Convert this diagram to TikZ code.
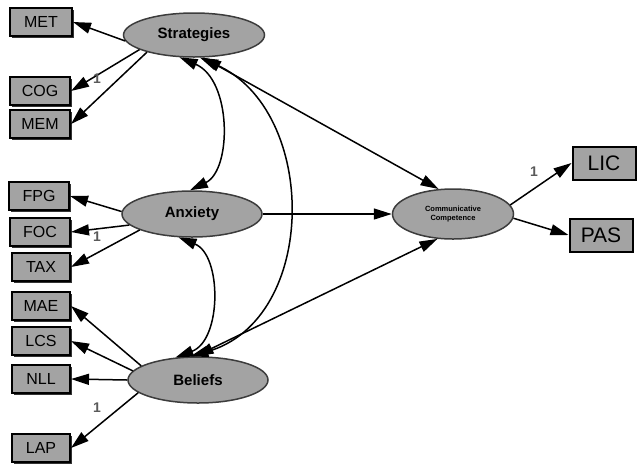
\documentclass[tikz,border=0pt]{standalone}
\usepackage{fontspec}
\setmainfont{Liberation Sans}
\usetikzlibrary{arrows.meta,shapes.geometric,shadows}
\definecolor{fillg}{RGB}{163,163,163}
\definecolor{edgeg}{RGB}{60,60,60}
\definecolor{lblg}{RGB}{90,90,90}
\begin{document}
\begin{tikzpicture}[x=1pt,y=-1pt,
  obs/.style={draw=black, line width=2pt, fill=fillg, minimum width=60pt, minimum height=28pt, inner sep=0pt,
    font=\fontsize{16}{16}\selectfont,
    drop shadow={shadow xshift=1.5pt,shadow yshift=-1.5pt,fill=black,opacity=0.8}},
  bigobs/.style={obs, minimum width=63pt, minimum height=33pt, font=\fontsize{21}{21}\selectfont},
  lat/.style={ellipse, draw=edgeg, line width=1.5pt, fill=fillg, minimum width=141pt, minimum height=44pt,
    inner sep=0pt, font=\bfseries\fontsize{15}{15}\selectfont},
  pth/.style={line width=1.5pt, -{Triangle[length=18pt,width=11pt]}},
  cov/.style={line width=1.5pt, {Triangle[length=18pt,width=11pt]}-{Triangle[length=18pt,width=11pt]}},
  lbl/.style={text=lblg, font=\bfseries\fontsize{14}{14}\selectfont}]
\useasboundingbox (0,0) rectangle (637,467);
% observed boxes
\node[obs, minimum width=62pt] (MET) at (41,22) {MET};
\node[obs] (COG) at (40,91) {COG};
\node[obs] (MEM) at (40,124) {MEM};
\node[obs] (FPG) at (39,196) {FPG};
\node[obs] (FOC) at (40,232) {FOC};
\node[obs, minimum width=58pt] (TAX) at (41,267) {TAX};
\node[obs, minimum width=58pt] (MAE) at (41,306) {MAE};
\node[obs, minimum width=58pt] (LCS) at (41,341) {LCS};
\node[obs, minimum width=58pt] (NLL) at (41,379) {NLL};
\node[obs, minimum width=58pt] (LAP) at (41,448) {LAP};
\node[bigobs] (LIC) at (604,163) {LIC};
\node[bigobs] (PAS) at (601,235) {PAS};
% latent ellipses
\node[lat] (S) at (194,35) {Strategies};
\node[lat, minimum width=140pt, minimum height=46pt] (A) at (192,214) {Anxiety};
\node[lat, minimum width=140pt, minimum height=46pt] (B) at (198,380) {Beliefs};
\node[lat, minimum width=121pt, minimum height=50pt, align=center, font=\bfseries\fontsize{7.5}{9}\selectfont] (CC) at (453,214) {Communicative\\Competence};
% paths to indicators
\draw[pth] (S.185) -- (MET.east);
\draw[pth] (S.195) -- (COG.east);
\draw[pth] (S.200) -- (MEM.east);
\draw[pth] (A.178) -- (FPG.east);
\draw[pth] (A.190) -- (FOC.east);
\draw[pth] (A.197) -- (TAX.east);
\draw[pth] (B.166) -- (MAE.east);
\draw[pth] (B.172) -- (LCS.east);
\draw[pth] (B.180) -- (NLL.east);
\draw[pth] (B.192) -- (LAP.east);
\draw[pth] (CC.9) -- (LIC.west);
\draw[pth] (CC.356) -- (PAS.west);
\draw[pth] (A.east) -- (CC.west);
% covariances
\draw[cov] (S.237) .. controls (232,80) and (232,170) .. (A.95);
\draw[cov] (A.240) .. controls (222,255) and (222,340) .. (B.135);
\draw[cov] (S.285) .. controls (319,110) and (319,320) .. (B.108);
\draw[cov] (S.292) -- (CC.120);
\draw[cov] (B.96) -- (CC.238);
% labels
\node[lbl] (l1) at (97,79) {1};
\node[lbl] (l2) at (97,237) {1};
\node[lbl] (l3) at (97,408) {1};
\node[lbl] (l4) at (534,172) {1};
\end{tikzpicture}
\end{document}
